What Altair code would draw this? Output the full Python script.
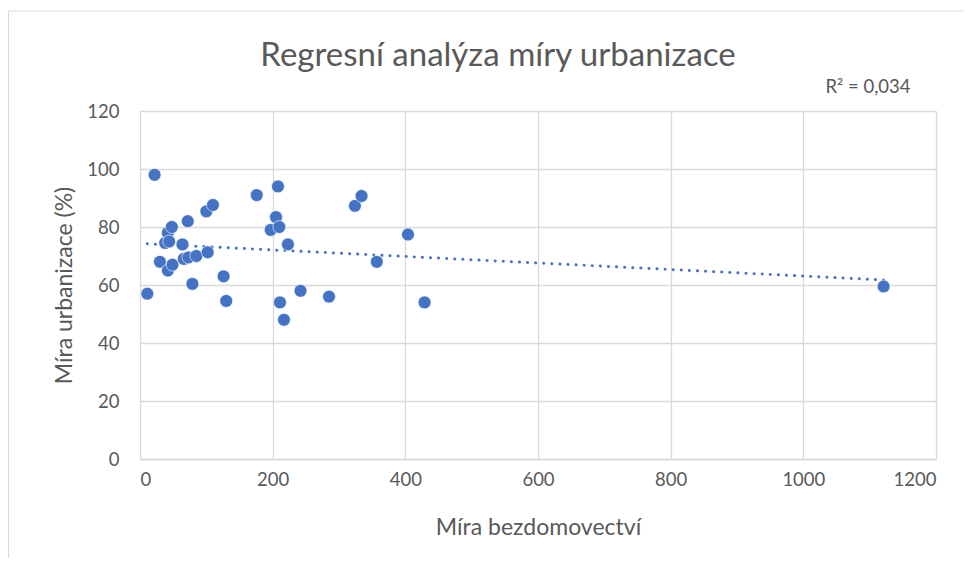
import altair as alt
import pandas as pd

# Míra bezdomovectví (x) and Míra urbanizace (%) (y)
homeless = [11, 22, 30, 38, 42, 44, 42, 48, 49, 64, 66, 73, 72, 79, 85, 100, 102, 110,
            126, 130, 176, 197, 205, 208, 210, 211, 217, 223, 242, 285, 324, 334, 357,
            404, 429, 1121]
urban = [57, 98, 68, 74.5, 78, 75, 65, 80, 67, 74, 69, 69.5, 82, 60.4, 70, 85.4, 71.3, 87.6,
         63, 54.5, 91, 79, 83.4, 94, 80, 54, 48, 74, 58, 56, 87.3, 90.7, 68,
         77.4, 54, 59.5]

x_ticks = [0, 200, 400, 600, 800, 1000, 1200]
y_ticks = [0, 20, 40, 60, 80, 100, 120]

title_text = "Regresní analýza míry urbanizace"
r2_text = "R² = 0,034"

df = pd.DataFrame({"homeless": homeless, "urban": urban})

BLUE = "#4472C4"
GRAY = "#595959"
GRID = "#D9D9D9"
FONT = "Lato"

x_enc = alt.X("homeless:Q",
              scale=alt.Scale(domain=[0, 1200], nice=False, zero=True),
              axis=alt.Axis(title="Míra bezdomovectví", values=x_ticks, format="d",
                            labelPadding=11, titlePadding=28, domain=True,
                            domainColor=GRID, domainWidth=1.3))
y_enc = alt.Y("urban:Q",
              scale=alt.Scale(domain=[0, 120], nice=False),
              axis=alt.Axis(title="Míra urbanizace (%)", values=y_ticks, format="d",
                            labelPadding=21, titlePadding=10, domain=False))

base = alt.Chart(df)

points = base.mark_point(filled=True, size=165, opacity=1, color=BLUE,
                         stroke="white", strokeWidth=0.6).encode(x=x_enc, y=y_enc)

trend = base.transform_regression("homeless", "urban", method="linear").mark_line(
    color=BLUE, strokeWidth=3, strokeDash=[0.1, 8], strokeCap="round"
).encode(x="homeless:Q", y="urban:Q")

labels_df = pd.DataFrame({"title": [title_text], "r2": [r2_text]})
lab = alt.Chart(labels_df)

title = lab.mark_text(align="center", baseline="middle", fontSize=33, font=FONT,
                      color=GRAY).encode(
    x=alt.value(358), y=alt.value(-55), text="title:N")

r2 = lab.mark_text(align="center", baseline="middle", fontSize=18.5, font=FONT,
                   color=GRAY).encode(
    x=alt.value(728), y=alt.value(-24), text="r2:N")

# chart-area frame (top and left edges, as visible in the reference)
frame_top = lab.mark_rule(color=GRID, strokeWidth=1.2, clip=False).encode(
    x=alt.value(-131.5), x2=alt.value(840), y=alt.value(-100))
frame_left = lab.mark_rule(color=GRID, strokeWidth=1.2, clip=False).encode(
    x=alt.value(-131.5), y=alt.value(-100), y2=alt.value(460))

chart = alt.layer(frame_top, frame_left, trend, points, title, r2).properties(
    width=796, height=348,
    autosize=alt.AutoSizeParams(type="none"),
    padding={"left": 132, "top": 103, "right": 28, "bottom": 99},
).configure_view(stroke=None).configure_axis(
    grid=True, gridColor=GRID, gridWidth=1.3, ticks=False,
    labelFont=FONT, labelFontSize=18.5, labelColor=GRAY,
    titleFont=FONT, titleFontSize=23, titleColor=GRAY, titleFontWeight="normal",
)

chart.save("out.html", embed_options={"renderer": "svg", "actions": False})
